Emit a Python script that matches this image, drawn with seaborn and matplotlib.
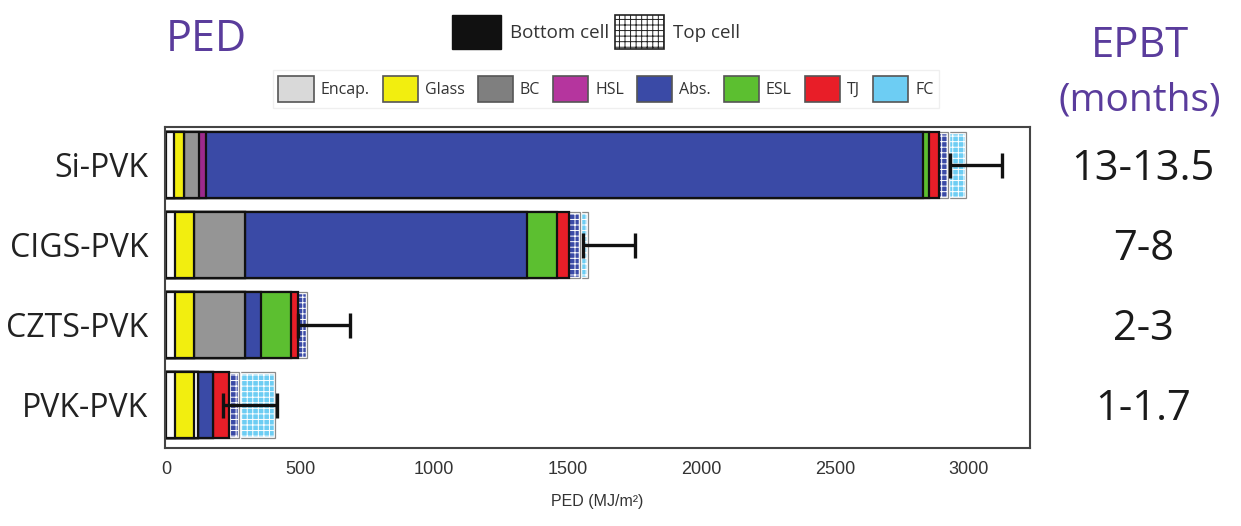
import numpy as np
import pandas as pd
import seaborn as sns
import matplotlib.pyplot as plt
from matplotlib.patches import Patch
from matplotlib.transforms import blended_transform_factory

devices = ['Si-PVK', 'CIGS-PVK', 'CZTS-PVK', 'PVK-PVK']
epbt = ['13-13.5', '7-8', '2-3', '1-1.7']

# bottom cell layers, MJ/m2
encap = [30, 34, 34, 34]
glass = [37, 71, 71, 71]
encap_rear = [0, 0, 0, 15]
bc = [56, 190, 190, 0]
hsl = [26, 0, 0, 0]
absorber = [2679, 1054, 60, 56]
esl = [22, 112, 112, 0]
tj = [37, 45, 26, 60]
# top cell layers
top_abs = [34, 41, 34, 34]
top_fc = [66, 30, 0, 135]

# error bar range
err_low = [2929, 1558, 493, 213]
err_high = [3123, 1752, 687, 415]

legend_names = ['Encap.', 'Glass', 'BC', 'HSL', 'Abs.', 'ESL', 'TJ', 'FC']
legend_colors = ['#d9d9d9', '#f2ee0f', '#7f7f7f', '#b5359e', '#3a4aa6', '#5cbf30', '#e81e28', '#6dcdf3']

purple = '#5a3c9c'

sns.set_theme(style='white')
plt.rcParams['font.family'] = ['Open Sans', 'DejaVu Sans']
plt.rcParams['hatch.linewidth'] = 0.7

fig = plt.figure(figsize=(12.41, 5.26), dpi=100)
ax = fig.add_axes([165 / 1241, 78 / 526, 865 / 1241, 321 / 526])

# (values, colour, top cell?)
segments = [
    (encap, '#fbfbfb', False),
    (glass, '#f2ee0f', False),
    (encap_rear, '#fbfbfb', False),
    (bc, '#959595', False),
    (hsl, '#9c2a8c', False),
    (absorber, '#3a4aa6', False),
    (esl, '#5cbf30', False),
    (tj, '#e81e28', False),
    (top_abs, '#3a4aa6', True),
    (top_fc, '#6dcdf3', True),
]
ends = np.cumsum([np.array(v) for v, _, _ in segments], axis=0)

# stacked bars: draw cumulative totals from the outermost layer inwards
for i in reversed(range(len(segments))):
    _, color, top = segments[i]
    df = pd.DataFrame({'device': devices, 'end': ends[i]})
    if top:
        sns.barplot(data=df, x='end', y='device', color=color, saturation=1,
                    width=0.82, errorbar=None, edgecolor='white', linewidth=2.5,
                    hatch='+++', ax=ax)
        sns.barplot(data=df, x='end', y='device', fill=False, color='#8a8a8a',
                    width=0.82, errorbar=None, linewidth=0.9, ax=ax)
    else:
        sns.barplot(data=df, x='end', y='device', color=color, saturation=1,
                    width=0.82, errorbar=None, edgecolor='#111111', linewidth=1.6,
                    ax=ax)

lo = np.array(err_low)
hi = np.array(err_high)
ax.errorbar(x=(lo + hi) / 2, y=np.arange(len(devices)), xerr=(hi - lo) / 2,
            fmt='none', ecolor='#111111', elinewidth=2.4, capsize=9, capthick=2.4,
            zorder=10)

ax.set_xlim(-5, 3228)
ax.set_ylim(3.54, -0.475)
ax.set_xticks([0, 500, 1000, 1500, 2000, 2500, 3000])
ax.tick_params(axis='both', length=0)
ax.tick_params(axis='x', pad=9, labelsize=13, labelcolor='#333333')
ax.tick_params(axis='y', pad=12, labelsize=23, labelcolor='#222222')
for lab in ax.get_xticklabels():
    lab.set_family('Liberation Sans')
ax.set_ylabel('')
ax.set_xlabel('PED (MJ/m²)', family='Liberation Sans', fontsize=11.5,
              color='#333333', labelpad=12)
for s in ax.spines.values():
    s.set_color('#444444')
    s.set_linewidth(1.5)

# EPBT values on the right
tr = blended_transform_factory(ax.transAxes, ax.transData)
for i, txt in enumerate(epbt):
    ax.text(1.131, i + 0.05, txt, transform=tr, ha='center', va='center',
            fontsize=30, color='#1a1a1a')

fig.text(206 / 1241, 1 - 40 / 526, 'PED', ha='center', va='center', fontsize=31, color=purple)
fig.text(1140 / 1241, 1 - 46 / 526, 'EPBT', ha='center', va='center', fontsize=30, color=purple)
fig.text(1140 / 1241, 1 - 100 / 526, '(months)', ha='center', va='center', fontsize=28, color=purple)

# legends
cell_handles = [Patch(facecolor='#111111', edgecolor='#111111'),
                Patch(facecolor='white', edgecolor='#222222', hatch='+++', linewidth=1.2)]
leg1 = fig.legend(cell_handles, ['Bottom cell', 'Top cell'], loc='center',
                  bbox_to_anchor=(596 / 1241, 1 - 32 / 526), ncol=2, frameon=False,
                  fontsize=13.5, handlelength=2.6, handleheight=2.4, handletextpad=0.5,
                  columnspacing=0.3, labelcolor='#333333')

layer_handles = [Patch(facecolor=c, edgecolor='#555555', linewidth=1.2) for c in legend_colors]
leg2 = fig.legend(layer_handles, legend_names, loc='center',
                  bbox_to_anchor=(606 / 1241, 1 - 89 / 526), ncol=8, frameon=True,
                  fontsize=11.5, handlelength=2.2, handleheight=2.2, handletextpad=0.45,
                  columnspacing=0.8, labelcolor='#333333', borderpad=0.35,
                  fancybox=False)
leg2.get_frame().set_edgecolor('#ececec')
leg2.get_frame().set_linewidth(1.0)

fig.savefig('out.png', dpi=100)
